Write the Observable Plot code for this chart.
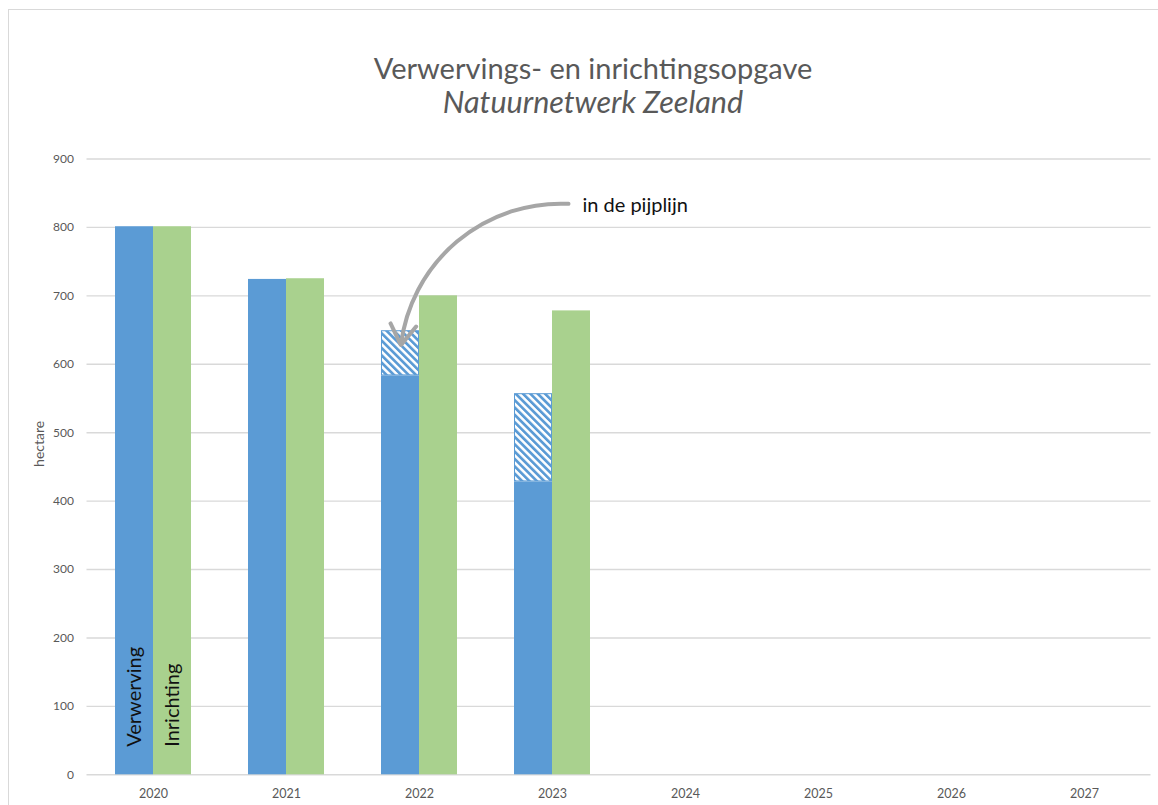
<!DOCTYPE html>
<html>
<head>
<meta charset="utf-8">
<script src="https://cdn.jsdelivr.net/npm/d3@7"></script>
<script src="https://cdn.jsdelivr.net/npm/@observablehq/plot@0.6"></script>
<style>
  html, body { margin: 0; padding: 0; background: #fff; }
  #page { position: relative; width: 1158px; height: 805px; overflow: hidden; font-family: Lato, "Open Sans", sans-serif; }
  #frame { position: absolute; left: 8px; top: 9px; width: 1160px; height: 820px; border: 1.5px solid #d9d9d9; box-sizing: border-box; pointer-events: none; }
  #header { position: relative; height: 130px; width: 1158px; }
  .t { position: absolute; left: 0; width: 1186px; text-align: center; font-size: 29px; line-height: 33px; color: #595959; white-space: nowrap; }
  #t1 { top: 51px; }
  #t2 { top: 85px; font-style: italic; font-size: 30.5px; }
  #chart svg { display: block; }
</style>
</head>
<body>
<div id="page">
  <div id="frame"></div>
  <div id="header">
    <div class="t" id="t1">Verwervings- en inrichtingsopgave</div>
    <div class="t" id="t2">Natuurnetwerk Zeeland</div>
  </div>
  <div id="chart"></div>
</div>
<script>
// ---- data ----
const years = [2020, 2021, 2022, 2023, 2024, 2025, 2026, 2027];
const yTicks = [0, 100, 200, 300, 400, 500, 600, 700, 800, 900];
const dataYears = [2020, 2021, 2022, 2023];
const verwerving = [801, 724, 583, 428];      // gerealiseerd
const pijplijn   = [0, 0, 66, 129];           // in de pijplijn (bovenop verwerving)
const inrichting = [801, 725, 700, 678];
const seriesNames = ["Verwerving", "Inrichting"];
const yLabel = "hectare";
const annotationLabel = "in de pijplijn";
const annotation = [{x1: 2023.21, y1: 833, x2: 2021.86, y2: 628, tx: 2023.225, ty: 832}];

const blue = "#5b9bd5", green = "#a9d18e", grid = "#d9d9d9", textGray = "#595959";
const half = 38 / 133; // bar width as fraction of a year slot

const vData = dataYears.map((year, i) => ({year, value: verwerving[i]}));
const pData = dataYears.map((year, i) => ({year, base: verwerving[i], top: verwerving[i] + pijplijn[i]})).filter(d => d.top > d.base);
const iData = dataYears.map((year, i) => ({year, value: inrichting[i]}));
const labels = [
  {label: seriesNames[0], year: dataYears[0], offset: -half / 2},
  {label: seriesNames[1], year: dataYears[0], offset: half / 2}
];

const chart = Plot.plot({
  width: 1158,
  height: 675,
  marginTop: 28.5,
  marginBottom: 30.7,
  marginLeft: 86.5,
  marginRight: 7.5,
  style: {fontFamily: "Lato, 'Open Sans', sans-serif", fontSize: "12px", color: textGray, background: "transparent"},
  x: {type: "linear", domain: [years[0] - 0.5, years[years.length - 1] + 0.5]},
  y: {domain: [0, 900]},
  marks: [
    Plot.ruleY(yTicks, {stroke: grid, strokeWidth: 1.4}),
    Plot.axisY({ticks: yTicks, tickSize: 0, tickPadding: 13, label: null, fontSize: 12}),
    Plot.axisX({ticks: years, tickSize: 0, tickPadding: 14, tickFormat: "d", label: null, fontSize: 12.5}),
    Plot.text([yLabel], {frameAnchor: "left", rotate: -90, dx: -47, fontSize: 14, fill: textGray}),
    Plot.rectY(vData, {x1: d => d.year - half, x2: d => d.year, y1: 0, y2: "value", fill: blue}),
    Plot.rectY(pData, {x1: d => d.year - half, x2: d => d.year, y1: "base", y2: "top", fill: "url(#hatch)", stroke: blue, strokeWidth: 1, inset: 0.5}),
    Plot.rectY(iData, {x1: d => d.year, x2: d => d.year + half, y1: 0, y2: "value", fill: green}),
    Plot.text(labels, {x: d => d.year + d.offset, y: 0, text: "label", rotate: -90, textAnchor: "start", dy: -28, fontSize: 20, fill: "#111"}),
    Plot.arrow(annotation, {x1: "x1", y1: "y1", x2: "x2", y2: "y2", bend: -45, insetStart: 12, stroke: "#a6a6a6", strokeWidth: 4, headLength: 9, headAngle: 65}),
    Plot.text(annotation, {x: "tx", y: "ty", text: () => annotationLabel, textAnchor: "start", fontSize: 20, fill: "#111"})
  ]
});

// hatch pattern for "in de pijplijn"
const svg = d3.select(chart);
const pat = svg.insert("defs", ":first-child").append("pattern")
  .attr("id", "hatch").attr("patternUnits", "userSpaceOnUse")
  .attr("width", 5.2).attr("height", 5.2).attr("patternTransform", "rotate(-45)");
pat.append("rect").attr("width", 5.2).attr("height", 5.2).attr("fill", "#fff");
pat.append("rect").attr("width", 2.7).attr("height", 5.2).attr("fill", blue);

document.getElementById("chart").appendChild(chart);
</script>
</body>
</html>
